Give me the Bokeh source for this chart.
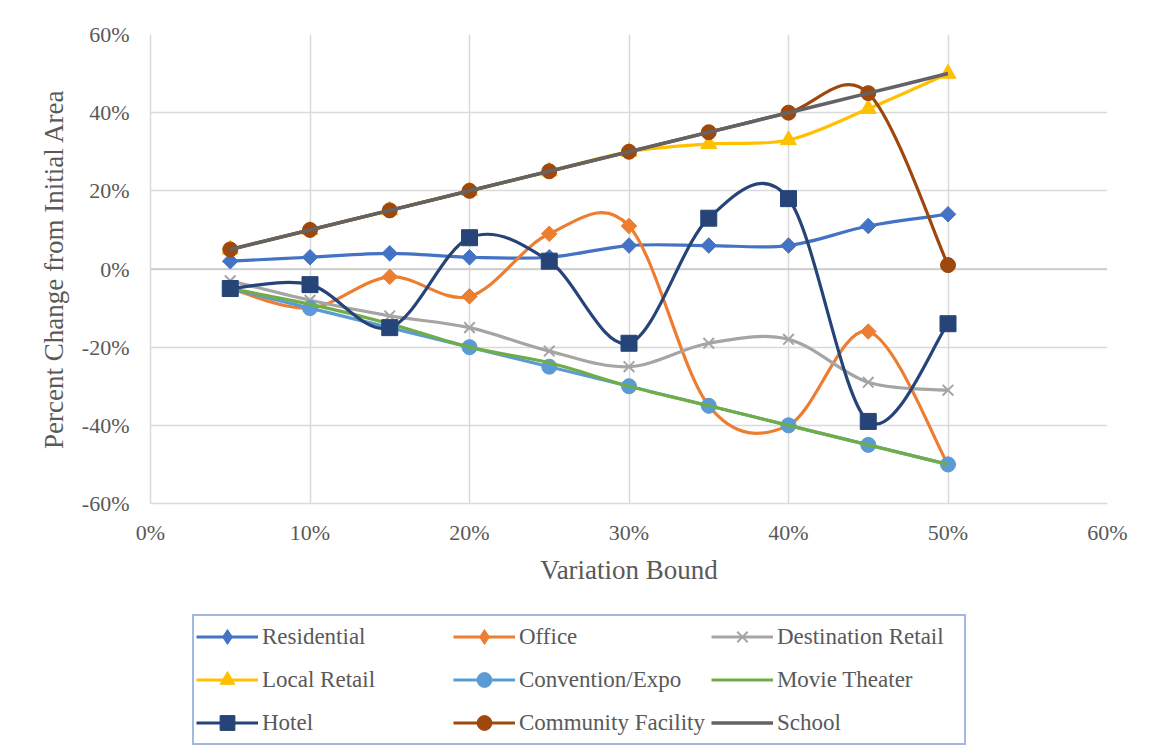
import math
from bokeh.plotting import figure
from bokeh.layouts import column
from bokeh.models import (Range1d, FixedTicker, PrintfTickFormatter, Legend, LegendItem, Span)
from bokeh.embed import file_html
from bokeh.resources import INLINE

# ---- data (percent) ----
bounds = [5, 10, 15, 20, 25, 30, 35, 40, 45, 50]
residential = [2, 3, 4, 3, 3, 6, 6, 6, 11, 14]
office = [-5, -10, -2, -7, 9, 11, -35, -40, -16, -50]
destination_retail = [-3, -8, -12, -15, -21, -25, -19, -18, -29, -31]
local_retail = [5, 10, 15, 20, 25, 30, 32, 33, 41, 50]
convention_expo = [-5, -10, -15, -20, -25, -30, -35, -40, -45, -50]
movie_theater = [-5, -9, -14, -20, -24, -30, -35, -40, -45, -50]
hotel = [-5, -4, -15, 8, 2, -19, 13, 18, -39, -14]
community_facility = [5, 10, 15, 20, 25, 30, 35, 40, 45, 1]
school = [5, 10, 15, 20, 25, 30, 35, 40, 45, 50]

x_ticks = [0, 10, 20, 30, 40, 50, 60]
y_ticks = [-60, -40, -20, 0, 20, 40, 60]

series = [
    ("Residential", residential, "#4472C4", "diamond", 3.2),
    ("Office", office, "#ED7D31", "diamond", 3.2),
    ("Destination Retail", destination_retail, "#A5A5A5", "x", 3.2),
    ("Local Retail", local_retail, "#FFC000", "triangle", 3.2),
    ("Convention/Expo", convention_expo, "#5B9BD5", "circle", 3.2),
    ("Movie Theater", movie_theater, "#70AD47", None, 3.2),
    ("Hotel", hotel, "#264478", "square", 3.2),
    ("Community Facility", community_facility, "#9E480E", "circle", 3.2),
    ("School", school, "#636363", None, 3.6),
]

FONT = "Liberation Serif"
TXT = "#595959"
W = 1141


def smooth(xs, ys):
    n = len(xs)
    out = {k: [] for k in ("x0", "y0", "x1", "y1", "cx0", "cy0", "cx1", "cy1")}
    for i in range(n - 1):
        x0, y0 = xs[i], ys[i]
        x1, y1 = xs[i + 1], ys[i + 1]
        xp, yp = (xs[i - 1], ys[i - 1]) if i > 0 else (x0, y0)
        xn, yn = (xs[i + 2], ys[i + 2]) if i + 2 < n else (x1, y1)
        out["x0"].append(x0); out["y0"].append(y0)
        out["x1"].append(x1); out["y1"].append(y1)
        out["cx0"].append(x0 + (x1 - xp) / 6); out["cy0"].append(y0 + (y1 - yp) / 6)
        out["cx1"].append(x1 - (xn - x0) / 6); out["cy1"].append(y1 - (yn - y0) / 6)
    return out


def add_marker(fig, xs, ys, color, marker, in_legend=False):
    if marker == "diamond":
        if in_legend:
            return fig.scatter(xs, ys, marker="diamond", size=16,
                               fill_color=color, line_color=color, line_width=1)
        return fig.scatter(xs, ys, marker="square", angle=math.pi / 4, size=11,
                           fill_color=color, line_color=color, line_width=1)
    if marker == "x":
        return fig.scatter(xs, ys, marker="x", size=15, line_color=color, line_width=2)
    if marker == "triangle":
        return fig.scatter(xs, ys, marker="triangle", size=16,
                           fill_color=color, line_color=color, line_width=1)
    if marker == "square":
        return fig.scatter(xs, ys, marker="square", size=16,
                           fill_color=color, line_color=color, line_width=1)
    return fig.scatter(xs, ys, marker="circle", size=15,
                       fill_color=color, line_color=color, line_width=1)


p = figure(width=W, height=600, output_backend="svg", toolbar_location=None,
           x_range=Range1d(0, 60), y_range=Range1d(-60, 60),
           min_border_left=150, min_border_right=W - 1107, min_border_top=34, min_border_bottom=97,
           background_fill_color="white", border_fill_color="white")
p.outline_line_color = None

for ax in (p.xaxis[0], p.yaxis[0]):
    ax.axis_line_color = "#D9D9D9"
    ax.axis_line_width = 1.5
    ax.major_tick_line_color = None
    ax.minor_tick_line_color = None
    ax.major_tick_out = 0
    ax.major_tick_in = 0
    ax.major_label_text_font = FONT
    ax.major_label_text_font_size = "22px"
    ax.major_label_text_color = TXT
    ax.axis_label_text_font = FONT
    ax.axis_label_text_font_size = "27px"
    ax.axis_label_text_font_style = "normal"
    ax.axis_label_text_color = TXT
    ax.formatter = PrintfTickFormatter(format="%d%%")

p.xaxis[0].ticker = FixedTicker(ticks=x_ticks)
p.yaxis[0].ticker = FixedTicker(ticks=y_ticks)
p.xaxis[0].axis_label = "Variation Bound"
p.yaxis[0].axis_label = "Percent Change from Initial Area"
p.xaxis[0].major_label_standoff = 16
p.yaxis[0].major_label_standoff = 21
p.xaxis[0].axis_label_standoff = 7
p.yaxis[0].axis_label_standoff = 10

for g in (p.xgrid[0], p.ygrid[0]):
    g.grid_line_color = "#D9D9D9"
    g.grid_line_width = 1.5

zero = Span(location=0, dimension="width", line_color="#C8C8C8", line_width=1.6, level="underlay")
p.add_layout(zero)

for name, ys, color, marker, lw in series:
    seg = smooth(bounds, ys)
    p.bezier(source=seg, x0="x0", y0="y0", x1="x1", y1="y1",
             cx0="cx0", cy0="cy0", cx1="cx1", cy1="cy1",
             line_color=color, line_width=lw)
    if marker is not None:
        add_marker(p, bounds, ys, color, marker)

# ---- legend panel (its frame is aligned with the chart frame by the column) ----
q = figure(width=W, height=150, output_backend="svg", toolbar_location=None,
           x_range=Range1d(0, 1), y_range=Range1d(0, 1),
           min_border_left=0, min_border_right=0, min_border_top=0, min_border_bottom=0,
           background_fill_color="white", border_fill_color="white")
q.outline_line_color = None
q.axis.visible = False
q.grid.visible = False

# legend-only renderers: one point placed outside the visible range
off = [-5]
items = []
for name, ys, color, marker, lw in series:
    rl = q.line(off + off, off + off, line_color=color, line_width=lw)
    rs = [rl]
    if marker is not None:
        rs.append(add_marker(q, off, off, color, marker, in_legend=True))
    items.append(LegendItem(label=name, renderers=rs))

legend = Legend(items=items, location=(42, 5), orientation="horizontal", ncols=3,
                glyph_width=62, glyph_height=37, label_standoff=4, label_width=185,
                spacing=6, padding=2, margin=0,
                label_text_font=FONT, label_text_font_size="23px", label_text_color=TXT,
                border_line_color="#4472C4", border_line_width=2.2,
                background_fill_color="white", background_fill_alpha=1.0)
q.add_layout(legend, "center")

layout = column(p, q, spacing=0)
open("out.html", "w").write(file_html(layout, INLINE))
